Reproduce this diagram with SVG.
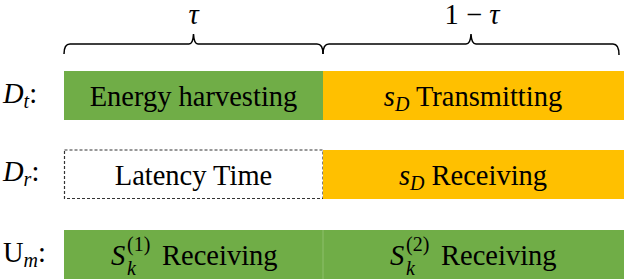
<svg xmlns="http://www.w3.org/2000/svg" width="624" height="280" viewBox="0 0 624 280" font-family="'Liberation Serif', 'DejaVu Serif', serif">
<style>
text{font-family:'Liberation Serif','DejaVu Serif',serif;font-size:28.5px;fill:#000}
.i{font-style:italic}
.s{font-size:20px}
.g{fill:#70AD47}
.o{fill:#FFC000}
.brace{fill:none;stroke:#000;stroke-width:1.5}
</style>
<g id="braces">
<path class="brace" d="M64,54 Q64,44 70,44 L189,44 Q193,44 193.5,34 Q194,44 198,44 L317,44 Q323,44 323,54"/>
<path class="brace" d="M323,54 Q323,44 329,44 L466,44 Q470.5,44 471,34 Q471.5,44 476,44 L613,44 Q619,44 619,55"/>
<text id="tau" class="i" x="193.5" y="24" text-anchor="middle">τ</text>
<text id="one-minus-tau" x="472" y="24" text-anchor="middle">1 − <tspan class="i">τ</tspan></text>
</g>
<g id="labels">
<text x="3" y="103"><tspan class="i">D</tspan><tspan class="i s" dy="5">t</tspan><tspan dy="-5">:</tspan></text>
<text x="3" y="181"><tspan class="i">D</tspan><tspan class="i s" dy="5">r</tspan><tspan dy="-5">:</tspan></text>
<text x="3" y="262">U<tspan class="i s" dy="5">m</tspan><tspan dy="-5">:</tspan></text>
</g>
<g id="energy-harvesting">
<rect class="g" x="64" y="71" width="259" height="49"/>
<text x="193.5" y="106" text-anchor="middle">Energy harvesting</text>
</g>
<g id="sd-transmitting">
<rect class="o" x="323" y="71" width="301" height="49"/>
<text x="473" y="106" text-anchor="middle"><tspan class="i">s</tspan><tspan class="i s" dy="5">D</tspan><tspan dy="-5"> Transmitting</tspan></text>
</g>
<g id="latency-time">
<rect x="64.5" y="150" width="258.5" height="48.5" fill="#fff" stroke="#333" stroke-width="1.2" stroke-dasharray="3,2"/>
<text x="193.5" y="184.5" text-anchor="middle">Latency Time</text>
</g>
<g id="sd-receiving">
<rect class="o" x="323" y="150" width="301" height="49"/>
<text x="473" y="184.5" text-anchor="middle"><tspan class="i">s</tspan><tspan class="i s" dy="5">D</tspan><tspan dy="-5"> Receiving</tspan></text>
</g>
<g id="sk1-receiving">
<rect class="g" x="64" y="230" width="259" height="49"/>
<text class="i" x="111" y="265">S</text>
<text class="i s" x="127" y="274.5">k</text>
<text class="s" x="127" y="251">(1)</text>
<text x="162" y="265">Receiving</text>
</g>
<g id="sk2-receiving">
<rect class="g" x="323" y="230" width="301" height="49"/>
<line x1="323" y1="230" x2="323" y2="279" stroke="#8DBF6C" stroke-width="1"/>
<text class="i" x="390" y="265">S</text>
<text class="i s" x="406" y="274.5">k</text>
<text class="s" x="406" y="251">(2)</text>
<text x="441" y="265">Receiving</text>
</g>
</svg>
